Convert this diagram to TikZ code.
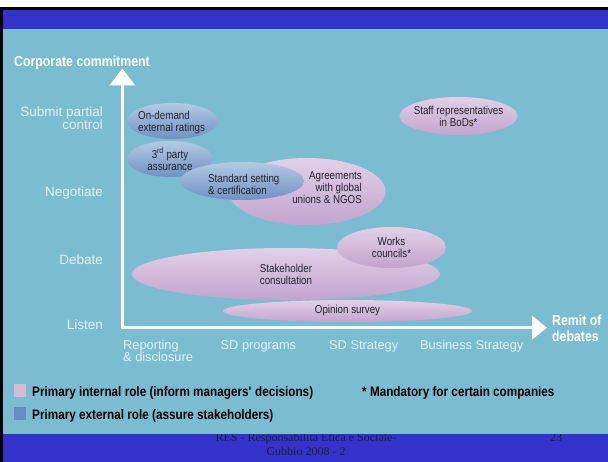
\documentclass[tikz,border=0pt]{standalone}
\usepackage{fontspec}
\setmainfont{Liberation Sans}
\newfontfamily\condfont[FakeStretch=0.85]{Liberation Sans}
\newfontfamily\footfont{Liberation Serif}
\usetikzlibrary{shapes.geometric,arrows.meta}

\definecolor{slidebg}{RGB}{123,189,208}
\definecolor{slideblue}{RGB}{51,51,204}
\definecolor{axistext}{RGB}{226,241,246}
\definecolor{pinktop}{RGB}{226,208,232}
\definecolor{pinkbot}{RGB}{194,164,206}
\definecolor{bluetop}{RGB}{180,202,228}
\definecolor{bluebot}{RGB}{112,145,194}
\definecolor{bubbletext}{RGB}{35,35,45}
\definecolor{keypink}{RGB}{216,186,216}
\definecolor{keyblue}{RGB}{104,140,190}
\definecolor{foottext}{RGB}{30,30,60}

\tikzset{
  inside/.style={text=bubbletext, font=\condfont\fontsize{11.5}{12}\selectfont,
    align=center, inner sep=0pt},
  bubble/.style={inside, ellipse, inner sep=-3pt},
  internal/.style={bubble, top color=pinktop, bottom color=pinkbot},
  external/.style={bubble, top color=bluetop, bottom color=bluebot},
  ylab/.style={text=axistext, font=\fontsize{13.5}{13}\selectfont,
    align=right, inner sep=0pt, anchor=base east},
  xlab/.style={text=axistext, font=\fontsize{12.8}{12.5}\selectfont,
    align=left, inner sep=0pt, anchor=base west},
  heading/.style={text=white, font=\condfont\bfseries\fontsize{14.5}{17}\selectfont,
    align=left, inner sep=0pt, anchor=base west},
  key/.style={text=black, font=\condfont\bfseries\fontsize{13.8}{16}\selectfont,
    inner sep=0pt, anchor=base west},
  keybox/.style={minimum width=12pt, minimum height=13pt, inner sep=0pt},
  foot/.style={text=foottext, font=\footfont\fontsize{12}{14}\selectfont,
    inner sep=0pt, anchor=base},
  axis/.style={white, line width=3.5pt,
    {Triangle[width=25pt,length=17pt]}-{Triangle[width=23pt,length=15pt]}}
}

\begin{document}
\begin{tikzpicture}[x=1pt, y=-1pt]
\useasboundingbox (0,0) rectangle (608,462);

% Slide frame.
\fill[white] (0,0) rectangle (608,462);
\fill[black] (0,7) rectangle (608,462);
\fill[slideblue] (3,10) rectangle (608,462);

% Footer, partly hidden by the panel.
\node[foot] (footline) at (306,441) {RES - Responsabilita Etica e Sociale-};
\node[foot] (footplace) at (306,455) {Gubbio 2008 - 2};
\node[foot] (pagenum) at (556,441) {23};

\fill[slidebg] (3,29) rectangle (608,434);

% Axes.
\coordinate (ytip) at (122.3,68.5);
\coordinate (xtip) at (547,327.7);
\draw[axis] (ytip) |- (xtip);

\node[heading] (commitment) at (14,66.5) {Corporate commitment};
\node[heading] (remit) at (552,342) {Remit of\\debates};

\node[ylab] (submit) at (103,130) {Submit partial\\control};
\node[ylab] (negotiate) at (103,197) {Negotiate};
\node[ylab] (debate) at (103,265) {Debate};
\node[ylab] (listen) at (103,330) {Listen};

\node[xlab] (reporting) at (123,362) {Reporting\\\& disclosure};
\node[xlab] (programs) at (220.5,349) {SD programs};
\node[xlab] (sdstrategy) at (329,350) {SD Strategy};
\node[xlab] (business) at (420,350) {Business Strategy};

% Bubbles, back to front.
\node[internal, minimum width=249pt, minimum height=22pt] (opinion) at (347.5,311) {Opinion survey};
\node[internal, minimum width=308pt, minimum height=52pt] (consult) at (286,274) {Stakeholder\\consultation};
\node[internal, minimum width=109pt, minimum height=41pt] (works) at (391.5,247.5) {Works\\councils*};
\node[internal, minimum width=157pt, minimum height=67pt] (agree) at (307,191.5) {};
\node[external, minimum width=91pt, minimum height=36pt] (ondemand) at (172.5,121) {};
\node[inside, align=left, anchor=west] (ondemandtext) at (138,123) {On-demand\\external ratings};
\node[external, minimum width=86pt, minimum height=36pt] (thirdparty) at (170,159) {3\textsuperscript{rd} party\\assurance};
\node[external, minimum width=124pt, minimum height=38pt] (standard) at (242,181) {};
\node[inside, align=left, anchor=west] (standardtext) at (208,184) {Standard setting\\\& certification};
\node[inside, align=right, anchor=east] (agreetext) at (362,188) {Agreements\\with global\\unions \& NGOS};
\node[internal, minimum width=115pt, minimum height=38pt] (staff) at (458.5,116) {Staff representatives\\in BoDs*};

% Legend.
\node[keybox, fill=keypink] (pinkkey) at (20,390.5) {};
\node[key] (internalrole) at (32,396) {Primary internal role (inform managers\textquotesingle\ decisions)};
\node[key] (mandatory) at (362,396) {* Mandatory for certain companies};
\node[keybox, fill=keyblue] (bluekey) at (20,413.5) {};
\node[key] (externalrole) at (32,419) {Primary external role (assure stakeholders)};

\end{tikzpicture}
\end{document}
